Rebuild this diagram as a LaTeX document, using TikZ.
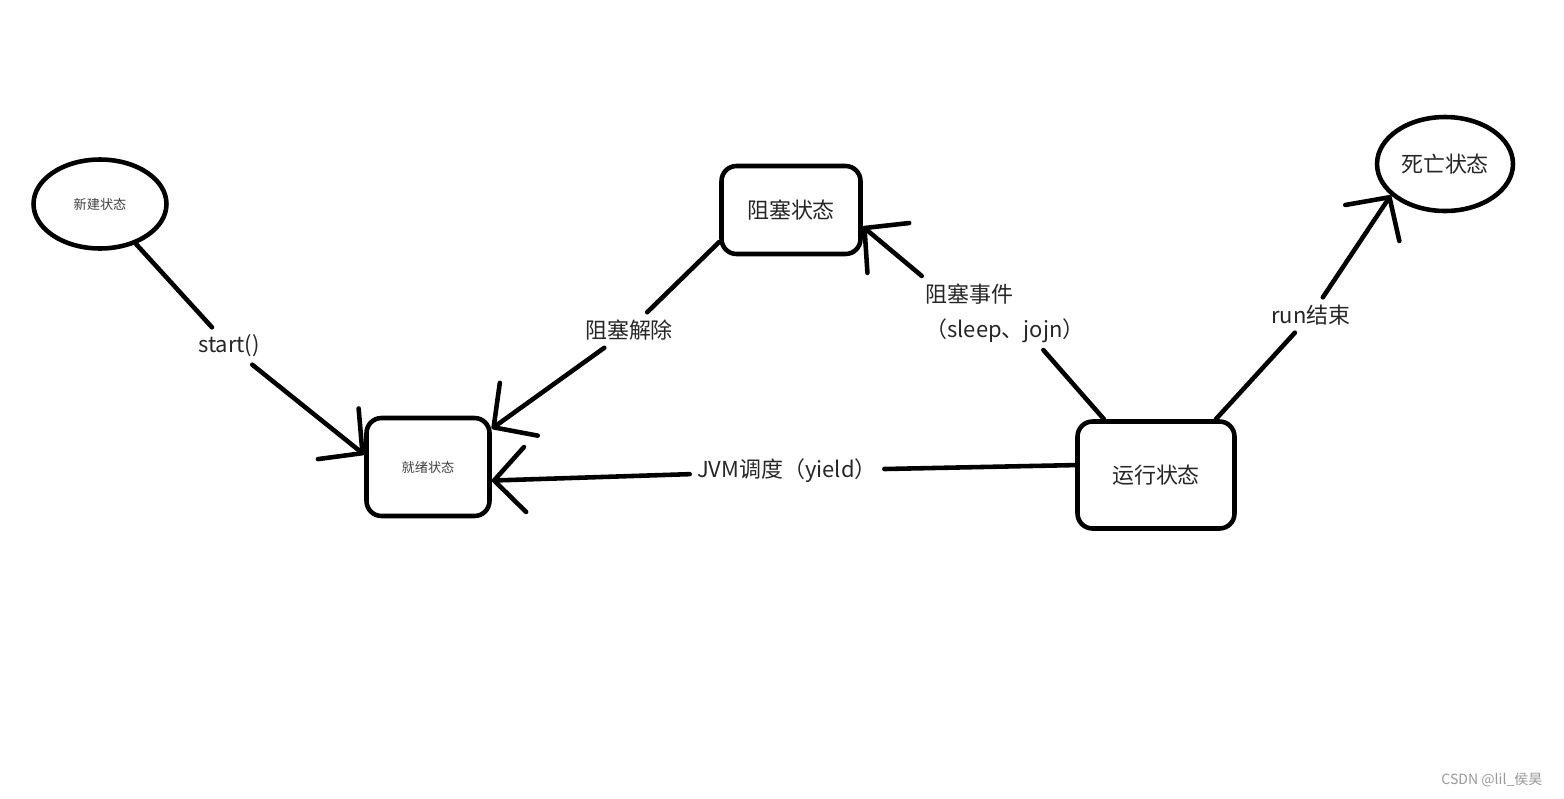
\documentclass[tikz,border=0pt]{standalone}
\usepackage{fontspec}
\usepackage{tikz}
\usetikzlibrary{shapes.geometric,arrows.meta}
\newfontfamily\cjk{Noto Sans CJK SC}

\begin{document}
\begin{tikzpicture}[x=0.02cm, y=-0.02cm, line width=2.6pt, line cap=round,
  oval/.style = {draw, ellipse, inner sep=0pt},
  box/.style = {draw, rounded corners=0.3cm, inner sep=0pt},
  small/.style = {font=\cjk\fontsize{7.5}{9}\selectfont, text=black!75},
  big/.style = {font=\cjk\fontsize{12.5}{14}\selectfont, text=black!85},
  lbl/.style = {font=\cjk\fontsize{12.5}{20}\selectfont, text=black!85, inner sep=3pt},
  hand/.style = {-{Straight Barb[length=0.62cm, width=1.3cm, round]}}]
  \useasboundingbox (0,0) rectangle (1564,798);

  % states
  \node[oval, small, minimum width=2.66cm, minimum height=1.78cm] (new) at (100,204) {新建状态};
  \node[box, small, minimum width=2.46cm, minimum height=1.96cm] (ready) at (428,467) {就绪状态};
  \node[box, big, minimum width=2.78cm, minimum height=1.76cm] (block) at (791,210) {阻塞状态};
  \node[box, big, minimum width=3.14cm, minimum height=2.14cm] (run) at (1156,475) {运行状态};
  \node[oval, big, minimum width=2.72cm, minimum height=1.88cm] (dead) at (1445,164) {死亡状态};

  % labels
  \node[lbl] (startlbl) at (229,346) {start()};
  \node[lbl] (unblk) at (629,330) {阻塞解除};
  \node[lbl, align=left] (event) at (1005,313) {阻塞事件\\（sleep、jojn）};
  \node[lbl] (jvm) at (787,471) {JVM调度（yield）};
  \node[lbl] (runend) at (1311,315) {run结束};

  % transitions
  \draw (new.-48) -- (startlbl);
  \draw[hand] (startlbl) -- (ready.169);
  \draw (block.204) -- (unblk);
  \draw[hand] (unblk) -- (ready.31);
  \draw (run.133) -- (event.316);
  \draw[hand] (event.156) -- (block.-13);
  \draw (run.173) -- (jvm);
  \draw[hand] (jvm) -- (ready.-12);
  \draw (run.43) -- (runend);
  \draw[hand] (runend) -- (dead.210);

  \node[font=\cjk\fontsize{8}{10}\selectfont, text=black!40] (mark) at (1492,780) {CSDN @lil\_侯昊};
\end{tikzpicture}
\end{document}
